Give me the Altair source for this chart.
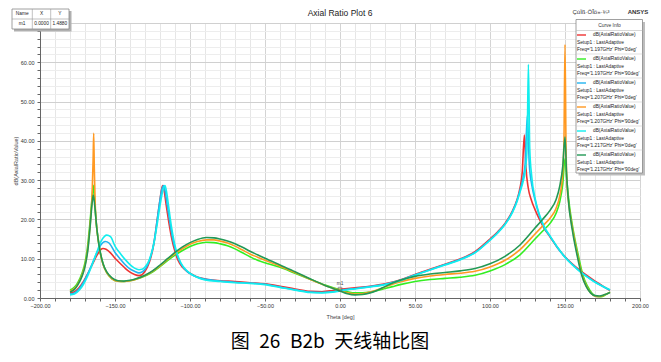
import altair as alt
import pandas as pd

FONT = "Liberation Sans"

# ---- curve data (theta [deg], dB axial ratio) ----
red = [(-180,1.3),(-177,1.6),(-174,2.6),(-171,4.2),(-168,6.3),(-165,8.6),(-162,10.9),(-159.5,12.3),(-158,12.6),(-156,12.4),(-153,11.5),(-150,10.1),(-146,8.6),(-143,7.5),(-140,6.6),(-137,6.0),(-134,5.7),(-132,5.9),(-130,6.8),(-128,8.2),(-126,10.5),(-124,14.0),(-122,19.5),(-120,25.0),(-119,27.6),(-118.2,28.6),(-117.3,27.5),(-116,24.0),(-114,19.0),(-112,14.8),(-110,11.8),(-108,9.6),(-105,7.8),(-102,6.8),(-100,6.3),(-96,5.5),(-92,5.0),(-88,4.7),(-80,4.4),(-70,4.2),(-60,3.9),(-50,3.6),(-40,3.0),(-30,2.3),(-20,1.7),(-12,1.6),(-5,1.9),(0,2.2),(5,2.4),(10,2.6),(20,3.0),(30,3.6),(40,4.6),(50,6.0),(60,7.3),(70,8.6),(80,9.9),(90,11.8),(100,15.0),(105,16.8),(110,19.0),(115,22.2),(118,25.0),(120,28.0),(121.5,32.0),(122.9,41.5),(124,33.0),(125.5,28.0),(127.5,25.0),(130,22.5),(133,20.0),(136,17.8),(140,15.6),(145,12.8),(150,10.5),(155,8.6),(160,7.0),(165,5.6),(170,4.3),(175,3.1),(180,1.9)]

green = [(-180,2.0),(-177,2.8),(-175,3.8),(-172,6.3),(-170,9.0),(-168,14.0),(-166.5,20.0),(-165.2,26.0),(-164.5,28.7),(-163.7,25.5),(-162.5,19.0),(-161,14.5),(-160,12.0),(-158,8.7),(-155.6,6.5),(-152,4.9),(-148,4.3),(-144,4.2),(-140,4.4),(-136,4.8),(-130,5.6),(-125,6.6),(-120,8.0),(-115,9.5),(-110,10.9),(-105,12.1),(-100,13.1),(-95,13.8),(-89,14.2),(-84,14.1),(-80,13.8),(-75,13.3),(-70,12.5),(-65,11.5),(-60,10.5),(-55,9.6),(-50,9.0),(-40,7.8),(-30,6.3),(-20,4.8),(-10,3.3),(0,2.1),(5,1.6),(10,1.3),(15,1.3),(20,1.5),(25,1.9),(30,2.4),(35,2.9),(40,3.4),(50,4.2),(60,4.7),(70,5.0),(80,5.3),(90,5.8),(100,6.9),(110,8.5),(120,11.0),(130,15.0),(135,17.0),(140,19.0),(144,21.5),(146.5,24.5),(148.5,29.0),(150,35.5),(151.2,30.0),(152.5,25.0),(155.6,17.0),(158.8,11.0),(161.8,6.0),(165,3.0),(168,1.2),(171,0.4),(174,0.3),(177,0.8),(180,1.5)]

blue = [(-180,1.0),(-177,1.3),(-174,2.3),(-171,4.0),(-168,6.3),(-165,8.9),(-162,11.6),(-159.5,13.5),(-156.5,14.4),(-154,14.0),(-150,11.6),(-146,9.7),(-143,8.4),(-140,7.4),(-137,6.8),(-134,6.4),(-132,6.6),(-130,7.3),(-128,8.6),(-126,10.8),(-124,14.2),(-122,19.5),(-120,25.0),(-118.5,28.0),(-117.6,28.6),(-116.7,27.5),(-115.5,24.5),(-113.5,19.5),(-111.5,15.0),(-109.5,12.0),(-107.5,9.8),(-104.5,7.8),(-101.5,6.6),(-99,6.0),(-95,5.3),(-90,4.8),(-80,4.3),(-70,4.0),(-60,3.8),(-50,3.5),(-40,2.8),(-30,2.1),(-20,1.5),(-12,1.4),(-5,1.6),(0,1.9),(5,2.2),(10,2.4),(20,2.9),(30,3.5),(40,4.5),(50,5.9),(60,7.2),(70,8.5),(80,9.8),(90,11.6),(100,14.8),(105,16.6),(110,18.8),(115,22.0),(118,24.8),(120,27.4),(122,30.5),(123.5,34.5),(124.9,46.5),(126.2,34.0),(128,28.5),(130,25.0),(133,20.8),(136,18.0),(140,15.7),(145,12.8),(150,10.4),(155,8.5),(160,6.8),(165,5.4),(170,4.1),(175,3.0),(180,2.0)]

orange = [(-180,1.7),(-177,2.4),(-175,3.4),(-172,5.8),(-170,8.3),(-168,13.0),(-166.5,19.0),(-165.3,26.0),(-164.6,35.0),(-164.2,41.9),(-163.8,33.0),(-163.2,24.0),(-162.2,18.0),(-161,14.2),(-160,11.8),(-158,8.6),(-155.6,6.5),(-152,4.9),(-148,4.3),(-144,4.2),(-140,4.4),(-136,4.8),(-130,5.7),(-125,6.8),(-120,8.2),(-115,9.8),(-110,11.3),(-105,12.6),(-100,13.7),(-95,14.4),(-89,14.8),(-84,14.8),(-80,14.5),(-75,14.0),(-70,13.2),(-65,12.2),(-60,11.2),(-55,10.4),(-50,9.6),(-40,8.1),(-30,6.5),(-20,4.8),(-10,3.2),(0,1.9),(5,1.3),(10,1.0),(15,1.1),(20,1.5),(25,2.1),(30,2.8),(35,3.5),(40,4.1),(50,5.0),(60,5.6),(70,6.0),(80,6.3),(90,6.8),(100,7.9),(110,9.6),(120,12.3),(130,16.3),(135,18.3),(140,20.3),(144,22.8),(146.5,26.0),(148.3,31.0),(149.3,40.0),(150,64.5),(150.7,38.0),(151.5,28.0),(152.5,24.0),(155.3,17.0),(158.3,11.0),(161.3,6.0),(164.3,3.0),(167.3,1.2),(170.5,0.4),(173.5,0.4),(176.5,0.8),(180,1.5)]

cyan = [(-180,0.8),(-177,1.0),(-174,1.9),(-171,3.5),(-168,5.8),(-165,8.7),(-162,11.8),(-159.5,14.3),(-157,15.7),(-155.5,16.0),(-153,15.6),(-150,13.2),(-146,11.1),(-143,9.7),(-140,8.5),(-137,7.6),(-134,7.2),(-132,7.3),(-130,7.9),(-128,9.0),(-126,11.0),(-124,14.0),(-122,18.5),(-120,23.5),(-118,27.5),(-116.7,28.6),(-115.7,27.2),(-114.5,24.0),(-112.5,18.5),(-110.5,14.2),(-108.5,11.2),(-106,8.9),(-103,7.3),(-100,6.3),(-96,5.4),(-90,4.6),(-80,4.2),(-70,3.9),(-60,3.7),(-50,3.4),(-40,2.7),(-30,2.0),(-20,1.4),(-12,1.3),(-5,1.5),(0,1.8),(5,2.1),(10,2.3),(20,2.8),(30,3.4),(40,4.4),(50,5.8),(60,7.1),(70,8.4),(80,9.7),(90,11.5),(100,14.7),(105,16.5),(110,18.7),(115,21.8),(118,24.5),(120,27.0),(122,29.5),(123.5,32.5),(124.7,38.0),(125.6,59.5),(126.5,38.0),(127.8,31.0),(130,25.5),(133,21.2),(136,18.3),(140,15.8),(145,12.9),(150,10.4),(155,8.4),(160,6.7),(165,5.3),(170,4.0),(175,3.0),(180,2.1)]

dkgreen = [(-180,1.5),(-177,2.2),(-175,3.2),(-172,5.5),(-170,8.0),(-168,12.5),(-166.5,18.5),(-165.3,24.0),(-164.5,26.2),(-163.5,23.5),(-162.2,18.0),(-161,14.3),(-160,12.0),(-158,8.8),(-155.6,6.7),(-152,5.1),(-148,4.4),(-144,4.3),(-140,4.5),(-136,4.9),(-130,5.8),(-125,6.9),(-120,8.4),(-115,10.0),(-110,11.6),(-105,13.0),(-100,14.1),(-95,14.9),(-89,15.4),(-84,15.3),(-80,15.0),(-75,14.5),(-70,13.8),(-65,12.9),(-60,11.9),(-55,11.0),(-50,10.1),(-40,8.4),(-30,6.7),(-20,4.9),(-10,3.2),(0,1.8),(5,1.1),(10,0.8),(15,0.9),(20,1.3),(25,2.0),(30,2.9),(35,3.8),(40,4.5),(50,5.5),(60,6.1),(70,6.5),(80,6.9),(90,7.5),(100,8.7),(110,10.6),(120,13.5),(130,17.8),(135,20.0),(140,22.3),(144,25.0),(146.5,28.5),(148.5,33.5),(150,41.0),(151,32.0),(152,26.0),(155,17.0),(158,11.0),(161,6.0),(164,3.0),(167,1.3),(170,0.6),(173,0.5),(176,0.8),(180,1.4)]

freq_labels = ["Freq='1.197GHz' Phi='0deg'", "Freq='1.197GHz' Phi='90deg'",
               "Freq='1.207GHz' Phi='0deg'", "Freq='1.207GHz' Phi='90deg'",
               "Freq='1.217GHz' Phi='0deg'", "Freq='1.217GHz' Phi='90deg'"]
colors = ["#ee3333", "#33ee22", "#22b4f0", "#ff9922", "#11eeee", "#229955"]
curves = [red, green, blue, orange, cyan, dkgreen]

marker = pd.DataFrame({"theta": [0.0], "db": [1.488], "name": ["m1"]})

# ---- scales / axes ----
X = alt.X("theta:Q", title="Theta [deg]",
          scale=alt.Scale(domain=[-200, 200], nice=False, zero=False),
          axis=alt.Axis(values=list(range(-200, 201, 10)),
                        labelExpr="datum.value % 50 === 0 ? format(datum.value, '.2f') : ''",
                        labelFontSize=5.5, labelColor="#333", labelFont=FONT,
                        labelFlush=False, labelOverlap=False, labelPadding=2,
                        tickSize=3, tickColor="#666", domainColor="#666",
                        gridColor={"condition": {"test": "datum.value % 50 === 0", "value": "#d4d4d4"}, "value": "#e6e6e6"},
                        titleFontSize=5.5, titleFontWeight="normal", titleColor="#444",
                        titleFont=FONT, titlePadding=6))
Y = alt.Y("db:Q", title="dB(AxialRatioValue)",
          scale=alt.Scale(domain=[0, 70], nice=False, zero=True),
          axis=alt.Axis(values=list(range(0, 71, 2)),
                        labelExpr="datum.value % 10 === 0 && datum.value < 70 ? format(datum.value, '.2f') : ''",
                        labelFontSize=5.5, labelColor="#333", labelFont=FONT,
                        labelFlush=False, labelOverlap=False, labelPadding=3,
                        tickSize=3, tickColor="#666", domainColor="#666",
                        gridColor={"condition": {"test": "datum.value % 10 === 0", "value": "#d0d0d0"}, "value": "#ededed"},
                        titleFontSize=5.5, titleFontWeight="normal", titleColor="#444",
                        titleFont=FONT, titlePadding=2))

one = pd.DataFrame({"k": [0]})


def txt(s, x, y, size=4.8, align="left", color="#222", weight="normal", font=FONT):
    return alt.Chart(one).mark_text(text=s, fontSize=size, align=align, baseline="middle",
                                    color=color, fontWeight=weight, font=font).encode(
        x=alt.value(x), y=alt.value(y))


def rect(x1, y1, x2, y2, fill="white", stroke=None, sw=0.8):
    kw = dict(fill=fill, strokeWidth=sw)
    if stroke:
        kw["stroke"] = stroke
    return alt.Chart(one).mark_rect(**kw).encode(
        x=alt.value(x1), x2=alt.value(x2), y=alt.value(y1), y2=alt.value(y2))


def rule(x1, y1, x2, y2, color="#999", sw=0.6):
    return alt.Chart(one).mark_rule(color=color, strokeWidth=sw).encode(
        x=alt.value(x1), x2=alt.value(x2), y=alt.value(y1), y2=alt.value(y2))


layers = []
for pts, col in zip(curves, colors):
    df = pd.DataFrame(pts, columns=["theta", "db"])
    layers.append(alt.Chart(df).mark_line(color=col, strokeWidth=1.6, interpolate="monotone")
                  .encode(x=X, y=Y))

# marker m1
layers.append(alt.Chart(marker).mark_point(shape="square", size=14, color="#555", strokeWidth=0.8,
                                           filled=False, yOffset=-3).encode(x=X, y=Y))
layers.append(alt.Chart(marker).mark_text(fontSize=4.8, color="#444", font=FONT, dy=-8)
              .encode(x=X, y=Y, text="name:N"))

# title and header texts
layers.append(txt("Axial Ratio Plot 6", 300, -10, size=8.5, align="center", color="#222"))
layers.append(txt("ÇúÏß·ÖÎö»·¾³", 551, -11, size=6, align="center", color="#333"))
layers.append(txt("ANSYS", 598, -11, size=6, align="center", color="#333", weight="bold"))

# marker table (top-left)
TY = -14
layers.append(rect(-26, TY + 2, 31.5, TY + 22.5, fill="#b0b0b0"))
layers.append(rect(-28, TY, 29, TY + 20, fill="white", stroke="#888"))
layers.append(rule(-28, TY + 10, 29, TY + 10, color="#999"))
layers.append(rule(-7.7, TY, -7.7, TY + 20, color="#999"))
layers.append(rule(10.7, TY, 10.7, TY + 20, color="#999"))
layers.append(txt("Name", -17.8, TY + 5, align="center"))
layers.append(txt("X", 1.5, TY + 5, align="center"))
layers.append(txt("Y", 19.8, TY + 5, align="center"))
layers.append(txt("m1", -17.8, TY + 15, align="center"))
layers.append(txt("0.0000", 1.5, TY + 15, align="center"))
layers.append(txt("1.4880", 19.8, TY + 15, align="center"))

# curve info legend
layers.append(rect(538.5, -1, 605, 152.5, fill="#bdbdbd"))
layers.append(rect(536, -3.5, 602.5, 150, fill="white", stroke="#888"))
layers.append(txt("Curve Info", 569.5, 3, size=4.9, align="center", color="#333"))
layers.append(rule(536, 7.5, 602.5, 7.5, color="#bbb"))
for i, (col, fl) in enumerate(zip(colors, freq_labels)):
    y0 = 12 + 24 * i
    layers.append(rule(537, y0, 546, y0, color=col, sw=1.4))
    layers.append(txt("dB(AxialRatioValue)", 553, y0, size=4.8))
    layers.append(txt("Setup1 : LastAdaptive", 537, y0 + 7.5, size=4.8))
    layers.append(txt(fl, 537, y0 + 15, size=4.8))
    if i < 5:
        layers.append(rule(536, y0 + 19, 602.5, y0 + 19, color="#cccccc"))

# caption
layers.append(txt("图\u200226\u2002B2b\u2002天线轴比图", 290, 318.5, size=19, align="center", color="#000",
                  font="Noto Sans CJK SC"))

chart = alt.layer(*layers).properties(
    width=600, height=275,
    padding={"left": 32, "top": 15, "right": 13, "bottom": 56},
    autosize=alt.AutoSizeParams(type="none"),
    background="white",
).configure_view(stroke="#777", strokeWidth=1)

chart.save("out.html", embed_options={"renderer": "svg", "actions": False})
